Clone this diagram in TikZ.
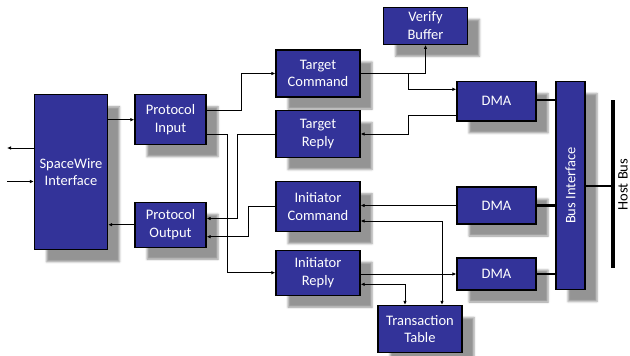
\documentclass[tikz,border=0pt]{standalone}
\usepackage{fontspec}
\setmainfont{Carlito}
\usetikzlibrary{arrows.meta,shadows.blur}
\definecolor{boxblue}{RGB}{51,51,153}
\tikzset{
  blk/.style={draw=black, line width=1.3pt, fill=boxblue, text=white,
    align=center, inner sep=0pt, font=\fontsize{14.5}{17.5}\selectfont,
    blur shadow={shadow xshift=12pt, shadow yshift=-12pt,
      shadow blur radius=2pt, shadow opacity=42}},
  arr/.style={line width=0.8pt, -{Latex[length=4pt,width=3.6pt]}},
  arrtwo/.style={line width=0.8pt, {Latex[length=4pt,width=3.6pt]}-{Latex[length=4pt,width=3.6pt]}},
  busline/.style={line width=2.2pt},
}
\begin{document}
\begin{tikzpicture}[x=1pt,y=-1pt]
\useasboundingbox (0,0) rectangle (630,356);

% functional blocks
\node[blk, minimum width=73pt, minimum height=155pt] (SW) at (71,172.3) {SpaceWire\\Interface};
\node[blk, minimum width=71pt, minimum height=50pt] (PI) at (170.5,119.7) {Protocol\\Input};
\node[blk, minimum width=71pt, minimum height=45pt] (PO) at (170.5,224.7) {Protocol\\Output};
\node[blk, minimum width=84pt, minimum height=47pt] (TC) at (318,73.5) {Target\\Command};
\node[blk, minimum width=84pt, minimum height=47pt] (TR) at (318,134) {Target\\Reply};
\node[blk, minimum width=84pt, minimum height=50pt] (IC) at (318,206.7) {Initiator\\Command};
\node[blk, minimum width=84pt, minimum height=45pt] (IR) at (318,272.7) {Initiator\\Reply};
\node[blk, minimum width=84pt, minimum height=37pt] (VB) at (425.5,25.8) {Verify\\Buffer};
\node[blk, minimum width=84pt, minimum height=47pt] (TT) at (420,329) {Transaction\\Table};
\node[blk, minimum width=79pt, minimum height=39.5pt] (DMA1) at (496.5,101.2) {DMA};
\node[blk, minimum width=79pt, minimum height=37pt] (DMA2) at (496.5,205.5) {DMA};
\node[blk, minimum width=79pt, minimum height=32pt] (DMA3) at (496.5,274) {DMA};
\node[blk, minimum width=29pt, minimum height=208pt] (BI) at (570.5,185.5) {};
\node[rotate=90, text=white, font=\fontsize{14.5}{17.5}\selectfont] (BIL) at (BI.center) {Bus Interface};

% host bus
\coordinate (hbtop) at (613,100);
\coordinate (hbbot) at (613,268);
\draw[line width=3.2pt] (hbtop) -- (hbbot);
\node[rotate=90, font=\fontsize{14.5}{17.5}\selectfont, inner sep=0pt] (HBL) at (623,184.5) {Host Bus};

% external SpaceWire link
\coordinate (outL) at (7,148);
\coordinate (inL) at (7,181.5);
\draw[arr] (SW.west |- outL) -- (outL);
\draw[arr] (inL) -- (SW.west |- inL);

% protocol paths
\draw[arr] (SW.east |- PI.west) -- (PI.west);
\draw[arr] (PO.west) -- (SW.east |- PO.west);
\draw[arr] (PI.east |- 0,110) -- (241,110) |- (TC.west);
\draw[arr] (PI.east |- 0,134) -- (227,134) |- (IR.west);
\draw[arr] (TR.west) -- (237.5,134) |- (PO.east |- 0,218.5);
\draw[arr] (IC.west) -- (248,206.7) |- (PO.east |- 0,236.7);

% target side
\draw[arr] (TC.east) -| (VB.south);
\draw[arr] (408.6,73.5) |- (DMA1.west |- 0,89.3);
\draw[arr] (DMA1.west |- 0,115.7) -| (408.6,134) -- (TR.east);

% initiator side
\draw[arr] (DMA2.west) -- (IC.east |- DMA2.west);
\draw[arrtwo] (IC.east |- 0,221) -| (TT.north -| 442,0);
\draw[arr] (IR.east |- DMA3.west) -- (DMA3.west);
\draw[arrtwo] (IR.east |- 0,284.3) -| (TT.north -| 405,0);

% bus connections
\draw[busline] (DMA1.east |- 0,100) -- (BI.west |- 0,100);
\draw[busline] (DMA2.east) -- (BI.west |- DMA2.east);
\draw[busline] (DMA3.east) -- (BI.west |- DMA3.east);
\draw[busline] (BI.east |- 0,186) -- (hbtop |- 0,186);
\end{tikzpicture}
\end{document}
